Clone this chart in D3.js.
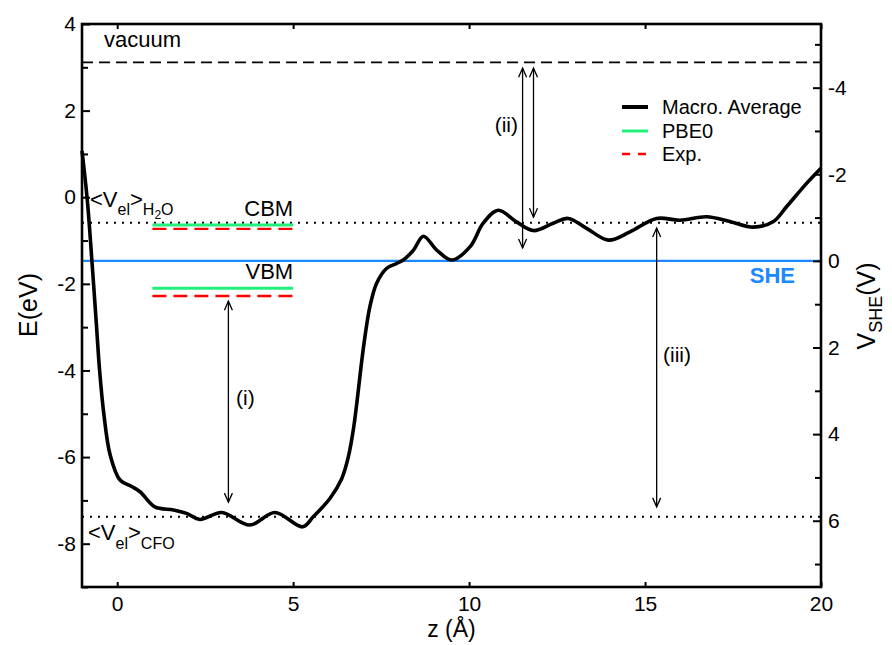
<!DOCTYPE html>
<html>
<head>
<meta charset="utf-8">
<script src="https://cdn.jsdelivr.net/npm/d3@7"></script>
<style>
  html, body { margin: 0; padding: 0; background: #fff; }
  svg { display: block; font-family: "Liberation Sans", Arial, Helvetica, sans-serif; }
</style>
</head>
<body>
<svg id="chart" width="892" height="645"></svg>
<script>
// Planar-averaged electrostatic potential (macroscopic average) across the CFO / water slab
const zValues = [-1.00, -0.85, -0.72, -0.59, -0.50, -0.38, -0.20, 0.08, 0.41, 0.65, 1.07, 1.60, 1.97, 2.35, 2.97, 3.77, 4.48,
  5.27, 5.57, 6.05, 6.38, 6.57, 6.71, 6.82, 6.93, 7.04, 7.18, 7.37, 7.66, 7.94, 8.13, 8.42, 8.70, 9.08, 9.51, 10.03, 10.40,
  10.83, 11.35, 11.83, 12.39, 12.82, 13.34, 13.96, 14.57, 15.33, 15.99, 16.75, 17.41, 18.08, 18.65, 19.02, 19.59, 20.00];
const macroAverage = [1.07, -0.06, -1.45, -2.95, -4.00, -5.00, -5.95, -6.53, -6.68, -6.80, -7.15, -7.22, -7.30, -7.44, -7.28, -7.57, -7.28,
  -7.61, -7.38, -6.95, -6.50, -5.99, -5.37, -4.68, -3.91, -3.22, -2.53, -1.99, -1.64, -1.53, -1.45, -1.22, -0.90, -1.22, -1.45, -1.14, -0.60,
  -0.30, -0.57, -0.77, -0.60, -0.49, -0.72, -0.99, -0.80, -0.49, -0.53, -0.45, -0.56, -0.69, -0.56, -0.22, 0.32, 0.67];

// Reference energy levels (eV)
const vacuumLevel = 3.115;
const vElH2O = -0.59;
const vElCFO = -7.38;
const sheLevel = -1.47;

// Band edges: z-range of the bars and energies
const bandSpan = [1, 5];
const bandNames = ["CBM", "VBM"];
const bandPBE0 = [-0.64, -2.10];
const bandExp = [-0.73, -2.28];

// Double-headed arrows marking the energy gaps
const gapLabels = ["(i)", "(ii)", "", "(iii)"];
const gapZ = [3.16, 11.52, 11.83, 15.33];
const gapTop = [-2.40, 2.98, 2.98, -0.71];
const gapBottom = [-7.04, -1.17, -0.46, -7.15];

// Axis ticks
const xTicks = [0, 5, 10, 15, 20];
const yTicks = [-8, -6, -4, -2, 0, 2, 4];
const yMinorTicks = [-9, -7, -5, -3, -1, 1, 3];
const vTicks = [-4, -2, 0, 2, 4, 6];
const vMinorTicks = [-5, -3, -1, 1, 3, 5, 7];

const legendNames = ["Macro. Average", "PBE0", "Exp."];

const svg = d3.select("#chart");
const L = 82, R = 821, T = 24, B = 587;

const x = d3.scaleLinear().domain([-1, 20]).range([L, R]);
const y = d3.scaleLinear().domain([-9, 4]).range([B, T]);
// Potential vs SHE: V = E_SHE - E
const yV = d3.scaleLinear().domain([sheLevel + 9, sheLevel - 4]).range([B, T]);

const FONT = 21;
const plain = d => String(d);

// Horizontal reference lines
function hline(e, opts) {
  svg.append("line")
    .attr("x1", x(-1)).attr("x2", x(20))
    .attr("y1", y(e)).attr("y2", y(e))
    .attr("stroke", opts.color).attr("stroke-width", opts.width)
    .attr("stroke-dasharray", opts.dash || null);
}
hline(vacuumLevel, {color: "#000", width: 1.8, dash: "11,6"});
hline(vElH2O, {color: "#000", width: 2, dash: "2,6"});
hline(vElCFO, {color: "#000", width: 2, dash: "2,6"});
hline(sheLevel, {color: "#1a88ff", width: 2.2});

// Band edge bars
bandNames.forEach((name, i) => {
  svg.append("line")
    .attr("x1", x(bandSpan[0])).attr("x2", x(bandSpan[1]))
    .attr("y1", y(bandPBE0[i])).attr("y2", y(bandPBE0[i]))
    .attr("stroke", "#22f07a").attr("stroke-width", 3);
  svg.append("line")
    .attr("x1", x(bandSpan[0])).attr("x2", x(bandSpan[1]))
    .attr("y1", y(bandExp[i])).attr("y2", y(bandExp[i]))
    .attr("stroke", "#ff0000").attr("stroke-width", 2.4)
    .attr("stroke-dasharray", "14,7");
  svg.append("text")
    .attr("x", x(bandSpan[1])).attr("y", y(bandPBE0[i]) - 9)
    .attr("text-anchor", "end").attr("font-size", 22)
    .text(name);
});

// Macroscopic average curve
const curveData = zValues.map((z, i) => ({z, e: macroAverage[i]}));
svg.append("path")
  .datum(curveData)
  .attr("fill", "none").attr("stroke", "#000").attr("stroke-width", 3.6)
  .attr("stroke-linejoin", "round")
  .attr("d", d3.line().x(d => x(d.z)).y(d => y(d.e)).curve(d3.curveCatmullRom.alpha(0.5)));

// Gap arrows
gapZ.forEach((z, i) => {
  const px = x(z), y1 = y(gapTop[i]), y2 = y(gapBottom[i]);
  const g = svg.append("g").attr("stroke", "#000").attr("stroke-width", 1.3).attr("fill", "none");
  g.append("line").attr("x1", px).attr("x2", px).attr("y1", y1).attr("y2", y2);
  g.append("path").attr("d", `M${px - 4},${y1 + 9}L${px},${y1}L${px + 4},${y1 + 9}`);
  g.append("path").attr("d", `M${px - 4},${y2 - 9}L${px},${y2}L${px + 4},${y2 - 9}`);
});
const gapLabelPos = [[236, 405, "start"], [518, 132, "end"], null, [663, 362, "start"]];
gapLabels.forEach((lab, i) => {
  if (!lab) return;
  const p = gapLabelPos[i];
  svg.append("text").attr("x", p[0]).attr("y", p[1]).attr("text-anchor", p[2])
    .attr("font-size", 21).text(lab);
});

// Level labels
svg.append("text").attr("x", 104).attr("y", 47).attr("font-size", 22).text("vacuum");

const h2o = svg.append("text").attr("x", 90).attr("y", 207).attr("font-size", 22);
h2o.append("tspan").text("<V");
h2o.append("tspan").attr("font-size", 16).attr("dy", 8).text("el");
h2o.append("tspan").attr("dy", -8).text(">");
h2o.append("tspan").attr("font-size", 16).attr("dy", 8).text("H");
h2o.append("tspan").attr("font-size", 12).attr("dy", 4).text("2");
h2o.append("tspan").attr("font-size", 16).attr("dy", -4).text("O");

const cfo = svg.append("text").attr("x", 88).attr("y", 540).attr("font-size", 22);
cfo.append("tspan").text("<V");
cfo.append("tspan").attr("font-size", 16).attr("dy", 9).text("el");
cfo.append("tspan").attr("dy", -9).text(">");
cfo.append("tspan").attr("font-size", 16).attr("dy", 9).text("CFO");

svg.append("text").attr("x", 795).attr("y", 283).attr("text-anchor", "end")
  .attr("font-size", 22).attr("font-weight", "bold").attr("fill", "#1a88ff").text("SHE");

// Legend
const legY = [107, 131, 154];
svg.append("line").attr("x1", 622).attr("x2", 648).attr("y1", legY[0]).attr("y2", legY[0])
  .attr("stroke", "#000").attr("stroke-width", 4);
svg.append("line").attr("x1", 622).attr("x2", 648).attr("y1", legY[1]).attr("y2", legY[1])
  .attr("stroke", "#22f07a").attr("stroke-width", 3);
svg.append("line").attr("x1", 622).attr("x2", 648).attr("y1", legY[2]).attr("y2", legY[2])
  .attr("stroke", "#ff0000").attr("stroke-width", 2.4).attr("stroke-dasharray", "8,8");
legendNames.forEach((n, i) => {
  svg.append("text").attr("x", 662).attr("y", legY[i]).attr("dy", "0.35em")
    .attr("font-size", 20).text(n);
});

// Axes (ticks pointing inward)
const axB = svg.append("g").attr("transform", `translate(0,${B})`)
  .call(d3.axisBottom(x).tickValues(xTicks).tickFormat(plain).tickSizeInner(-5).tickSizeOuter(0).tickPadding(9));
const axT = svg.append("g").attr("transform", `translate(0,${T})`)
  .call(d3.axisTop(x).tickValues(xTicks).tickSizeInner(-5).tickSizeOuter(0).tickFormat(""));
const axL = svg.append("g").attr("transform", `translate(${L},0)`)
  .call(d3.axisLeft(y).tickValues(yTicks).tickFormat(plain).tickSizeInner(-8).tickSizeOuter(0).tickPadding(6));
const axLm = svg.append("g").attr("transform", `translate(${L},0)`)
  .call(d3.axisLeft(y).tickValues(yMinorTicks).tickSizeInner(-6).tickSizeOuter(0).tickFormat(""));
const axR = svg.append("g").attr("transform", `translate(${R},0)`)
  .call(d3.axisRight(yV).tickValues(vTicks).tickFormat(plain).tickSizeInner(-8).tickSizeOuter(0).tickPadding(7));
const axRm = svg.append("g").attr("transform", `translate(${R},0)`)
  .call(d3.axisRight(yV).tickValues(vMinorTicks).tickSizeInner(-6).tickSizeOuter(0).tickFormat(""));

[axB, axT, axL, axLm, axR, axRm].forEach(a => {
  a.select(".domain").remove();
  a.selectAll(".tick line").attr("stroke", "#000").attr("stroke-width", 2);
  a.selectAll(".tick text").attr("font-size", FONT).attr("font-family", "Liberation Sans, Arial, sans-serif").attr("fill", "#000");
});

// Frame
svg.append("rect").attr("x", L).attr("y", T).attr("width", R - L).attr("height", B - T)
  .attr("fill", "none").attr("stroke", "#000").attr("stroke-width", 2.6);

// Axis titles
svg.append("text").attr("x", (L + R) / 2).attr("y", 637).attr("text-anchor", "middle")
  .attr("font-size", 23).text("z (Å)");
svg.append("text").attr("transform", "translate(37,305) rotate(-90)").attr("text-anchor", "middle")
  .attr("font-size", 25).text("E(eV)");
const vt = svg.append("text").attr("transform", "translate(875,306) rotate(-90)").attr("text-anchor", "middle")
  .attr("font-size", 25);
vt.append("tspan").text("V");
vt.append("tspan").attr("font-size", 18).attr("dy", 7).text("SHE");
vt.append("tspan").attr("dy", -7).text("(V)");
</script>
</body>
</html>
